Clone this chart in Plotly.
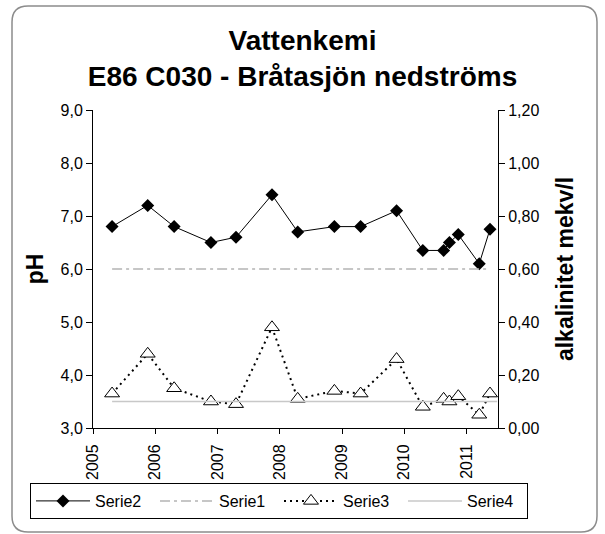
import plotly.graph_objects as go

# Sampling dates and measurements
dates = ["2005-04-23", "2005-11-18", "2006-04-22", "2006-11-24", "2007-04-20",
         "2007-11-17", "2008-04-16", "2008-11-17", "2009-04-20", "2009-11-17",
         "2010-04-20", "2010-08-20", "2010-09-23", "2010-11-14", "2011-03-17",
         "2011-05-19"]
ph_values = [6.8, 7.2, 6.8, 6.5, 6.6, 7.4, 6.7, 6.8, 6.8, 7.1,
             6.35, 6.35, 6.5, 6.65, 6.1, 6.75]
alk_values = [0.13, 0.28, 0.15, 0.10, 0.09, 0.38, 0.11, 0.14, 0.13, 0.26,
              0.08, 0.11, 0.10, 0.12, 0.05, 0.13]

# Reference levels
ph_limit_dates = ["2005-04-23", "2011-05-19"]
ph_limit = [6.0, 6.0]
alk_limit_dates = ["2005-04-23", "2011-06-30"]
alk_limit = [0.10, 0.10]

title_lines = ["Vattenkemi", "E86 C030 - Bråtasjön nedströms"]
series_names = ["Serie2", "Serie1", "Serie3", "Serie4"]

FONT = "Arial, 'Liberation Sans', Helvetica, sans-serif"
W, H = 605, 534
ML, MR, MT, MB = 93, 107, 110, 106
PW, PH_ = W - ML - MR, H - MT - MB
PLOT_BOTTOM = H - MB


def fx(p):
    return (p - ML) / PW


def fy(p):
    return (PLOT_BOTTOM - p) / PH_


def rounded_rect(x0, y0, x1, y1, r):
    pts = [
        f"M{fx(x0 + r)},{fy(y0)}",
        f"L{fx(x1 - r)},{fy(y0)}",
        f"Q{fx(x1)},{fy(y0)} {fx(x1)},{fy(y0 + r)}",
        f"L{fx(x1)},{fy(y1 - r)}",
        f"Q{fx(x1)},{fy(y1)} {fx(x1 - r)},{fy(y1)}",
        f"L{fx(x0 + r)},{fy(y1)}",
        f"Q{fx(x0)},{fy(y1)} {fx(x0)},{fy(y1 - r)}",
        f"L{fx(x0)},{fy(y0 + r)}",
        f"Q{fx(x0)},{fy(y0)} {fx(x0 + r)},{fy(y0)}",
        "Z",
    ]
    return " ".join(pts)


fig = go.Figure()

fig.add_trace(go.Scatter(
    x=dates, y=ph_values, name=series_names[0], mode="lines+markers",
    line=dict(color="black", width=1),
    marker=dict(symbol="diamond", size=10, color="black"),
))
fig.add_trace(go.Scatter(
    x=ph_limit_dates, y=ph_limit, name=series_names[1], mode="lines",
    line=dict(color="#b4b4b4", width=1.5, dash="10px,4px,3px,4px"),
))
fig.add_trace(go.Scatter(
    x=dates, y=alk_values, name=series_names[2], mode="lines+markers",
    yaxis="y2",
    line=dict(color="black", width=2, dash="2px,4px"),
    marker=dict(symbol="triangle-up", size=13, color="white",
                line=dict(color="black", width=1)),
))
fig.add_trace(go.Scatter(
    x=alk_limit_dates, y=alk_limit, name=series_names[3], mode="lines",
    yaxis="y2",
    line=dict(color="#c8c8c8", width=1.5),
))

fig.update_layout(
    width=W, height=H,
    margin=dict(l=ML, r=MR, t=MT, b=MB, autoexpand=False),
    paper_bgcolor="white", plot_bgcolor="white",
    separators=", ",
    font=dict(family=FONT, size=16, color="black"),
    title=dict(
        text="<b>" + title_lines[0] + "</b><br><b>" + title_lines[1] + "</b>",
        x=0.5, xref="container", xanchor="center",
        y=1 - 50 / H, yref="container", yanchor="top",
        font=dict(family=FONT, size=28, color="black"),
    ),
    xaxis=dict(
        type="date", range=["2005-01-01", "2011-07-05"],
        dtick="M12", tick0="2005-01-01", tickformat="%Y", tickangle=-90,
        showgrid=False, zeroline=False,
        showline=True, linecolor="black", linewidth=1,
        ticks="outside", ticklen=5, tickcolor="black",
        tickfont=dict(size=16), ticklabelstandoff=4,
    ),
    yaxis=dict(
        range=[3, 9], dtick=1, tickformat=".1f",
        showgrid=False, zeroline=False,
        showline=True, linecolor="black", linewidth=1,
        ticks="outside", ticklen=6, tickcolor="black",
        title=dict(text="<b>pH</b>", font=dict(size=23), standoff=10),
    ),
    yaxis2=dict(
        range=[0, 1.2], dtick=0.2, tickformat=".2f",
        overlaying="y", side="right",
        showgrid=False, zeroline=False,
        showline=True, linecolor="black", linewidth=1,
        ticks="outside", ticklen=6, tickcolor="black",
        title=dict(text="<b>alkalinitet mekv/l</b>", font=dict(size=23), standoff=18),
    ),
    legend=dict(
        orientation="h", x=fx(30), y=fy(483), xanchor="left", yanchor="top",
        bordercolor="black", borderwidth=1, bgcolor="white",
        font=dict(size=16), entrywidth=55, itemwidth=54,
        traceorder="normal",
    ),
    shapes=[dict(
        type="path", xref="paper", yref="paper",
        path=rounded_rect(12, 6, 597, 532, 16),
        line=dict(color="#8c8c8c", width=1.5), layer="below",
    )],
)

fig.write_html("out.html")
